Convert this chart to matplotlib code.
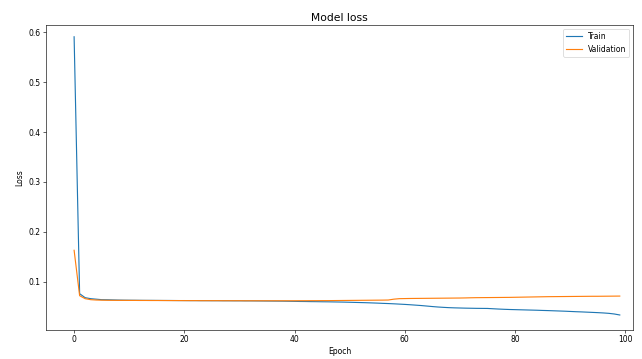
import matplotlib
matplotlib.use("Agg")
import matplotlib.pyplot as plt
import numpy as np

epochs = list(range(100))

train_loss = [
    0.591, 0.076, 0.068, 0.066, 0.065, 0.064, 0.0638, 0.0635, 0.0632, 0.0630,
    0.0629, 0.0628, 0.0627, 0.0626, 0.0626, 0.0625, 0.0624, 0.0624, 0.0623, 0.0622,
    0.0622, 0.0621, 0.0621, 0.0620, 0.0620, 0.0619, 0.0619, 0.0618, 0.0618, 0.0617,
    0.0617, 0.0616, 0.0616, 0.0615, 0.0614, 0.0613, 0.0612, 0.0611, 0.0610, 0.0608,
    0.0606, 0.0604, 0.0603, 0.0601, 0.0600, 0.0598, 0.0597, 0.0595, 0.0593, 0.0591,
    0.0588, 0.0585, 0.0582, 0.0579, 0.0575, 0.0571, 0.0566, 0.0562, 0.0557, 0.0551,
    0.0545, 0.0538, 0.0530, 0.0522, 0.0512, 0.0502, 0.0493, 0.0486, 0.0480, 0.0476,
    0.0473, 0.0470, 0.0468, 0.0466, 0.0465, 0.0464, 0.0458, 0.0452, 0.0447, 0.0443,
    0.0440, 0.0437, 0.0434, 0.0431, 0.0428, 0.0424, 0.0421, 0.0417, 0.0413, 0.0409,
    0.0404, 0.0399, 0.0395, 0.0390, 0.0385, 0.0380, 0.0374, 0.0366, 0.0353, 0.0333,
]

val_loss = [
    0.163, 0.072, 0.066, 0.064, 0.0633, 0.0630, 0.0628, 0.0627, 0.0626, 0.0626,
    0.0625, 0.0625, 0.0624, 0.0624, 0.0623, 0.0623, 0.0623, 0.0622, 0.0622, 0.0622,
    0.0621, 0.0621, 0.0621, 0.0620, 0.0620, 0.0620, 0.0620, 0.0619, 0.0619, 0.0619,
    0.0619, 0.0618, 0.0618, 0.0618, 0.0618, 0.0618, 0.0618, 0.0618, 0.0618, 0.0618,
    0.0618, 0.0619, 0.0619, 0.0620, 0.0620, 0.0621, 0.0621, 0.0622, 0.0623, 0.0624,
    0.0625, 0.0626, 0.0627, 0.0628, 0.0629, 0.0630, 0.0631, 0.0633, 0.0650, 0.0660,
    0.0662, 0.0664, 0.0665, 0.0666, 0.0667, 0.0668, 0.0669, 0.0670, 0.0671, 0.0672,
    0.0673, 0.0675, 0.0678, 0.0680, 0.0681, 0.0682, 0.0683, 0.0684, 0.0685, 0.0686,
    0.0688, 0.0690, 0.0692, 0.0694, 0.0696, 0.0698, 0.0700, 0.0701, 0.0702, 0.0703,
    0.0704, 0.0705, 0.0706, 0.0707, 0.0708, 0.0708, 0.0709, 0.0710, 0.0711, 0.0712,
]

series_labels = ["Train", "Validation"]
title = "Model loss"
xlabel = "Epoch"
ylabel = "Loss"

fig = plt.figure(figsize=(642 / 55, 359 / 55), dpi=55)
ax = fig.add_axes([46 / 642, 1 - 330 / 359, (633 - 46) / 642, (330 - 25) / 359])
ax.plot(epochs, train_loss, label=series_labels[0])
ax.plot(epochs, val_loss, label=series_labels[1])
ax.set_title(title, fontsize=14, pad=5)
ax.set_xlabel(xlabel)
ax.set_ylabel(ylabel, labelpad=6)
ax.set_xlim(-5.1, 101.4)
ax.set_ylim(0.0032, 0.6146)
ax.set_xticks([0, 20, 40, 60, 80, 100])
ax.set_yticks([0.1, 0.2, 0.3, 0.4, 0.5, 0.6])
ax.legend(loc="upper right")
fig.savefig("out.png", dpi=55)
